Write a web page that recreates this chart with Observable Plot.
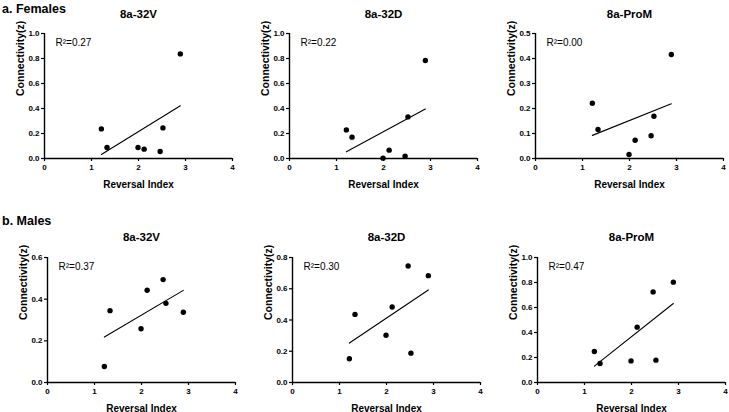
<!DOCTYPE html>
<html><head><meta charset="utf-8">
<script src="https://cdn.jsdelivr.net/npm/d3@7"></script>
<script src="https://cdn.jsdelivr.net/npm/@observablehq/plot@0.6"></script>
<style>
body{margin:0;background:#fff;}
#chart{position:relative;width:729px;height:412px;overflow:hidden;font-family:"Liberation Sans",Arial,sans-serif;background:#fff;}
.sec{position:absolute;left:2px;font-weight:bold;font-size:12.5px;color:#000;line-height:1;}
.pl{position:absolute;}
</style></head><body><div id="chart"></div>
<script>
// ---- data ----
const reversalIndex = [1.21, 1.33, 1.99, 2.12, 2.46, 2.52, 2.89];
const regionTitles = ["8a-32V", "8a-32D", "8a-ProM"];
const sectionLabels = ["a. Females", "b. Males"];
const femalesConn32V  = [0.237, 0.088, 0.088, 0.075, 0.056, 0.245, 0.837];
const femalesConn32D  = [0.229, 0.171, 0.003, 0.067, 0.019, 0.333, 0.784];
const femalesConnProM = [0.221, 0.116, 0.016, 0.073, 0.091, 0.169, 0.416];
const malesConn32V    = [0.077, 0.345, 0.258, 0.443, 0.494, 0.380, 0.337];
const malesConn32D    = [0.152, 0.436, 0.302, 0.483, 0.746, 0.188, 0.684];
const malesConnProM   = [0.248, 0.152, 0.173, 0.443, 0.725, 0.179, 0.803];
const femalesR2 = ["0.27", "0.22", "0.00"];
const malesR2   = ["0.37", "0.30", "0.47"];
const femalesYMax = [1.0, 1.0, 0.5];
const femalesYStep = [0.2, 0.2, 0.1];
const malesYMax = [0.6, 0.8, 1.0];
const malesYStep = [0.2, 0.2, 0.2];
const xTicks = [0, 1, 2, 3, 4];
const xLabel = "Reversal Index";
const yLabel = "Connectivity(z)";

// ---- layout ----
const FONT = '"Liberation Sans", Arial, sans-serif';
const rows = [
  {label: sectionLabels[0], labelTop: 3, frameTop: 33, frameH: 125, lefts: [44, 289, 535], series: [femalesConn32V, femalesConn32D, femalesConnProM], r2: femalesR2, ymax: femalesYMax, ystep: femalesYStep, titleDy: -16},
  {label: sectionLabels[1], labelTop: 215, frameTop: 257, frameH: 125, lefts: [47, 292, 537], series: [malesConn32V, malesConn32D, malesConnProM], r2: malesR2, ymax: malesYMax, ystep: malesYStep, titleDy: -17}
];
const FW = 188, mL = 42, mT = 33, mR = 5, mB = 34;
const chart = document.getElementById("chart");

rows.forEach(row => {
  const s = document.createElement("div");
  s.className = "sec"; s.style.top = row.labelTop + "px"; s.textContent = row.label;
  chart.appendChild(s);
  row.series.forEach((vals, i) => {
    const data = reversalIndex.map((x, k) => ({x, y: vals[k]}));
    const ymax = row.ymax[i], ystep = row.ystep[i];
    const yTicks = d3.range(0, ymax + 1e-9, ystep);
    const svg = Plot.plot({
      width: mL + FW + mR, height: mT + row.frameH + mB,
      marginLeft: mL, marginTop: mT, marginRight: mR, marginBottom: mB,
      style: {fontFamily: FONT, color: "#000", background: "transparent", overflow: "visible"},
      x: {domain: [0, 4]},
      y: {domain: [0, ymax]},
      marks: [
        Plot.axisX({ticks: xTicks, tickFormat: d3.format("d"), tickSize: 3, tickPadding: 2.5, fontSize: 8, fontWeight: "bold", label: null, strokeWidth: 1.2}),
        Plot.axisY({ticks: yTicks, tickFormat: d3.format(".1f"), tickSize: 3, tickPadding: 2, fontSize: 8, fontWeight: "bold", label: null, strokeWidth: 1.2}),
        Plot.ruleX([0], {stroke: "#000", strokeWidth: 1.4}),
        Plot.ruleY([0], {stroke: "#000", strokeWidth: 1.4}),
        Plot.linearRegressionY(data, {x: "x", y: "y", ci: 0, stroke: "#000", strokeWidth: 1.1}),
        Plot.dot(data, {x: "x", y: "y", r: 2.7, fill: "#000", stroke: "none"}),
        Plot.text([regionTitles[i]], {frameAnchor: "top", dy: row.titleDy, lineAnchor: "bottom", fontSize: 11.5, fontWeight: "bold", fill: "#000"}),
        Plot.text(["R\u00B2=" + row.r2[i]], {frameAnchor: "top-left", dx: 11, dy: 12.7, lineAnchor: "bottom", textAnchor: "start", fontSize: 10, fill: "#000"}),
        Plot.text([xLabel], {frameAnchor: "bottom", dy: 29, lineAnchor: "bottom", fontSize: 10, fontWeight: "bold", fill: "#000"}),
        Plot.text([yLabel], {frameAnchor: "left", dx: -21, rotate: -90, lineAnchor: "bottom", fontSize: 10.5, fontWeight: "bold", fill: "#000"})
      ]
    });
    svg.classList.add("pl");
    svg.style.left = (row.lefts[i] - mL) + "px";
    svg.style.top = (row.frameTop - mT) + "px";
    chart.appendChild(svg);
  });
});
</script></body></html>
